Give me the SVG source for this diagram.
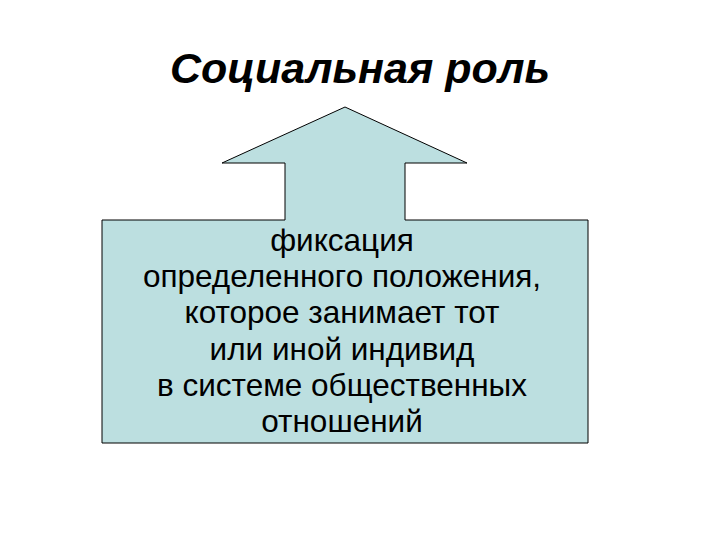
<svg xmlns="http://www.w3.org/2000/svg" width="720" height="540" viewBox="0 0 720 540">
<style>
.b{font-family:"Liberation Sans",Arial,sans-serif;font-size:31.5px;fill:#000;text-anchor:middle}
</style>
<rect width="720" height="540" fill="#fff"/>
<g id="shape">
<polygon points="345,107 467,163 405,163 405,220 588,220 588,443 102,443 102,220 285,220 285,163 222,163" fill="#bcdfe0" stroke="#000" stroke-width="1"/>
</g>
<g id="title"><text x="360" y="83" font-family="Liberation Sans,Arial,sans-serif" font-size="43" font-weight="bold" font-style="italic" text-anchor="middle">Социальная роль</text></g>
<g id="body">
<text class="b" x="342" y="251">фиксация</text>
<text class="b" x="342" y="287">определенного положения,</text>
<text class="b" x="342" y="323">которое занимает тот</text>
<text class="b" x="342" y="360">или иной индивид</text>
<text class="b" x="342" y="396">в системе общественных</text>
<text class="b" x="342" y="432">отношений</text>
</g>
<g id="connectors"/>
</svg>
